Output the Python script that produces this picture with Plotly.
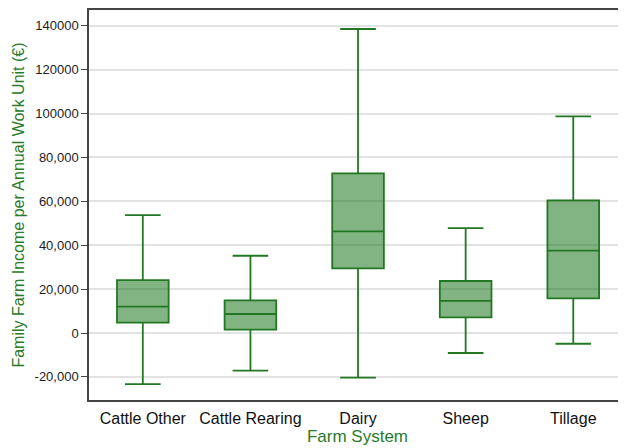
import plotly.graph_objects as go

# farm systems and box statistics
systems = ["Cattle Other", "Cattle Rearing", "Dairy", "Sheep", "Tillage"]
lower = [-23300, -17100, -20300, -9100, -4900]
q1 = [4700, 1500, 29400, 7100, 15800]
median = [12000, 8650, 46300, 14600, 37500]
q3 = [24100, 14900, 72700, 23700, 60400]
upper = [53700, 35200, 138500, 47800, 98700]

tick_vals = [-20000, 0, 20000, 40000, 60000, 80000, 100000, 120000, 140000]
tick_text = ["-20,000", "0", "20,000", "40,000", "60,000", "80,000", "100000", "120000", "140000"]

green = "rgb(34,120,34)"

fig = go.Figure(go.Box(
    x=systems,
    lowerfence=lower,
    q1=q1,
    median=median,
    q3=q3,
    upperfence=upper,
    fillcolor="rgba(0,100,0,0.49)",
    line=dict(color=green, width=1.8),
    width=0.48,
    whiskerwidth=0.69,
    boxpoints=False,
    showlegend=False,
))

# the page body adds ~8px offset, margins are compensated for it
fig.update_layout(
    width=618, height=448,
    margin=dict(l=81, r=0, t=2, b=56, autoexpand=False),
    paper_bgcolor="white", plot_bgcolor="white",
    font=dict(family="Liberation Sans, Arial, sans-serif", color="#222"),
    xaxis=dict(
        range=[-0.5, 4.49],
        automargin=False,
        showline=True, linecolor="#444", linewidth=1.5, mirror=True,
        showgrid=False, ticks="outside", ticklen=3, tickcolor="rgba(0,0,0,0)",
        tickfont=dict(size=16, color="#111"),
        title=dict(text="Farm System", font=dict(size=17, color="#2a7a2a"), standoff=2),
    ),
    yaxis=dict(
        range=[-30520, 147150],
        automargin=False,
        tickvals=tick_vals, ticktext=tick_text,
        showline=True, linecolor="#444", linewidth=1.5,
        showgrid=True, gridcolor="#e3e3e3", gridwidth=1.5,
        ticks="outside", ticklen=6, tickcolor="#444",
        tickfont=dict(size=13, color="#222"),
        zeroline=False,
        title=dict(text="Family Farm Income per Annual Work Unit (€)",
                   font=dict(size=16, color="#2a7a2a"), standoff=6),
    ),
)

fig.write_html("out.html")
